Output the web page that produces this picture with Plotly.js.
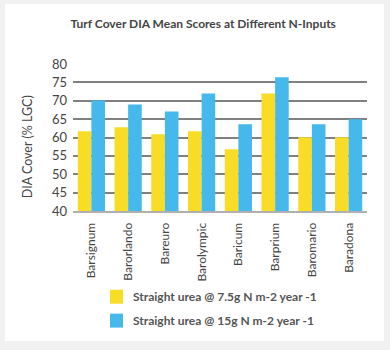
<!DOCTYPE html>
<html>
<head>
<meta charset="utf-8">
<script src="https://cdn.plot.ly/plotly-3.0.1.min.js"></script>
<style>
html,body{margin:0;padding:0;background:#f1f1f1;width:390px;height:350px;overflow:hidden;}
#card{position:absolute;left:5px;top:4px;width:379px;height:337px;background:#fff;}
#chart{width:379px;height:337px;}
</style>
</head>
<body>
<div id="card"><div id="chart"></div></div>
<script>
const categories = ["Barsignum","Barorlando","Bareuro","Barolympic","Baricum","Barprium","Baromario","Baradona"];
const seriesNames = ["Straight urea @ 7.5g N m-2 year -1", "Straight urea @ 15g N m-2 year -1"];
const series1 = [61.7, 62.8, 60.9, 61.7, 56.8, 72.0, 60.1, 60.1];
const series2 = [70.1, 69.0, 67.1, 72.0, 63.6, 76.4, 63.6, 65.0];
const yTicks = [40,45,50,55,60,65,70,75,80];
const colors = ['#F9DC26', '#45B8EC'];

const fontFam = "Lato, 'Open Sans', sans-serif";
const traces = [
  {type:'bar', name:seriesNames[0], x:categories, y:series1, marker:{color:colors[0]}},
  {type:'bar', name:seriesNames[1], x:categories, y:series2, marker:{color:colors[1]}}
];

// manual legend (paper coordinates below the plot)
const legShapes = [], legAnn = [];
const legTop = [-0.5356, -0.6983];
seriesNames.forEach((n,i)=>{
  legShapes.push({type:'rect', xref:'paper', yref:'paper', x0:0.1259, x1:0.1701, y0:legTop[i], y1:legTop[i]-0.0949, fillcolor:colors[i], line:{width:0}, layer:'above'});
  legAnn.push({xref:'paper', yref:'paper', x:0.1973, y:legTop[i]-0.0475, xanchor:'left', yanchor:'middle', text:n, showarrow:false, font:{family:fontFam, size:12, color:'#555', weight:700}});
});
legAnn.push({xref:'paper', yref:'paper', x:-0.156, y:0.434, xanchor:'center', yanchor:'middle', textangle:-90, text:'DIA Cover (% LGC)', showarrow:false, font:{family:fontFam, size:12.5, color:'#444'}});

const layout = {
  width:379, height:337,
  margin:{l:68, r:17, t:59.5, b:130},
  paper_bgcolor:'#fff', plot_bgcolor:'#fff',
  barmode:'group', bargap:0.26, bargroupgap:0,
  font:{family:fontFam, color:'#444', size:12},
  title:{text:'Turf Cover DIA Mean Scores at Different N-Inputs', xref:'container', x:0.523, xanchor:'center', yref:'container', y:0.94, yanchor:'middle', font:{family:fontFam, size:12, color:'#444', weight:700}},
  xaxis:{tickangle:-90, tickfont:{size:12, color:'#444', family:fontFam}, showline:true, linecolor:'#b0b0b0', linewidth:2, ticks:'', showgrid:false, fixedrange:true, ticklabelstandoff:5, automargin:false},
  yaxis:{range:[40,80], tickvals:yTicks, ticktext:yTicks.map(String), showgrid:true, gridcolor:'#808080', gridwidth:2, zeroline:false, ticks:'', tickfont:{size:13, color:'#444', family:fontFam}, ticklabelstandoff:5, automargin:false},
  shapes:legShapes,
  annotations:legAnn,
  showlegend:false
};
Plotly.newPlot('chart', traces, layout, {displayModeBar:false, staticPlot:true});
</script>
</body>
</html>
